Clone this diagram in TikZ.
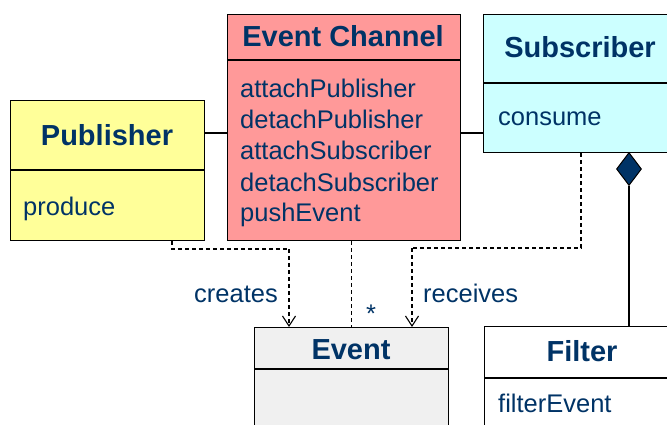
\documentclass[tikz,border=0pt]{standalone}
\usepackage{fontspec}
\setmainfont{Liberation Sans}
\usetikzlibrary{arrows.meta,shapes.geometric}
\definecolor{ink}{RGB}{0,51,102}
\definecolor{pubfill}{RGB}{255,255,153}
\definecolor{chanfill}{RGB}{255,153,153}
\definecolor{subfill}{RGB}{204,255,255}
\definecolor{evtfill}{RGB}{240,240,240}
\begin{document}
\begin{tikzpicture}[x=1pt,y=-1pt,
  classbox/.style={draw=black, line width=1.4pt, rectangle, inner sep=0pt, anchor=north west},
  ctitle/.style={text=ink, font=\fontsize{29}{29}\selectfont\bfseries, anchor=base, inner sep=0pt},
  op/.style={text=ink, font=\fontsize{25.5}{25.5}\selectfont, anchor=base west, inner sep=0pt},
  lbl/.style={text=ink, font=\fontsize{25.5}{25.5}\selectfont, inner sep=0pt},
  divider/.style={draw=black, line width=1.4pt},
  assoc/.style={draw=black, line width=1.4pt},
  dep/.style={draw=black, line width=1.2pt, dash pattern=on 4pt off 3pt},
  deparrow/.style={dep, -{Straight Barb[length=10pt,width=13pt,line width=1.1pt]}}]
\useasboundingbox (0,0) rectangle (667,425);
\clip (0,0) rectangle (667,425);

% class boxes
\node[classbox, fill=pubfill, minimum width=194pt, minimum height=140pt] (pub) at (10,100) {};
\node[classbox, fill=chanfill, minimum width=233pt, minimum height=226pt] (chan) at (227,14) {};
\node[classbox, fill=subfill, minimum width=194pt, minimum height=138pt] (sub) at (483,14) {};
\node[classbox, fill=evtfill, minimum width=194pt, minimum height=120pt] (evt) at (254,327) {};
\node[classbox, fill=white, minimum width=196pt, minimum height=120pt] (flt) at (484,326) {};

% compartment dividers
\coordinate (dpub) at (0,170);
\coordinate (dchan) at (0,60);
\coordinate (dsub) at (0,83);
\coordinate (devt) at (0,369);
\coordinate (dflt) at (0,378);
\draw[divider] (pub.west |- dpub) -- (pub.east |- dpub);
\draw[divider] (chan.west |- dchan) -- (chan.east |- dchan);
\draw[divider] (sub.west |- dsub) -- (sub.east |- dsub);
\draw[divider] (evt.west |- devt) -- (evt.east |- devt);
\draw[divider] (flt.west |- dflt) -- (flt.east |- dflt);

% class names
\node[ctitle] (tpub) at (107,146) {Publisher};
\node[ctitle] (tchan) at (343,47) {Event Channel};
\node[ctitle] (tsub) at (580,58) {Subscriber};
\node[ctitle] (tevt) at (351,359) {Event};
\node[ctitle] (tflt) at (582,361) {Filter};

% operations
\node[op] (opub) at (23,215) {produce};
\node[op] (m1) at (240,98) {attachPublisher};
\node[op] (m2) at (240,129) {detachPublisher};
\node[op] (m3) at (240,160) {attachSubscriber};
\node[op] (m4) at (240,191) {detachSubscriber};
\node[op] (m5) at (240,222) {pushEvent};
\node[op] (osub) at (498,126) {consume};
\node[op] (oflt) at (498,412) {filterEvent};

% associations between publisher, channel and subscriber
\coordinate (lvl) at (0,133);
\draw[assoc] (pub.east |- lvl) -- (chan.west |- lvl);
\draw[assoc] (chan.east |- lvl) -- (sub.west |- lvl);

% aggregation subscriber -> filter
\node[diamond, fill=ink, draw=black, line width=1pt, minimum width=25pt, minimum height=33pt,
      inner sep=0pt, anchor=north] (agg) at (629,152) {};
\draw[assoc] (agg.south) -- (agg.south |- flt.north);

% dependencies on event
\coordinate (p1) at (172,0);
\coordinate (b1) at (289,249);
\coordinate (s1) at (581,0);
\coordinate (b2) at (412,248);
\draw[dep] (pub.south -| p1) |- (b1);
\draw[deparrow] (b1) -- (evt.north -| b1);
\draw[dep] (sub.south -| s1) |- (b2);
\draw[deparrow] (b2) -- (evt.north -| b2);
\draw[dep] (chan.south -| evt.north) -- (evt.north);

% labels
\node[lbl, anchor=base east] (lcreates) at (278,302) {creates};
\node[lbl, anchor=base west] (lreceives) at (423,302) {receives};
\node[lbl, anchor=base] (lmany) at (371,322) {*};
\end{tikzpicture}
\end{document}
